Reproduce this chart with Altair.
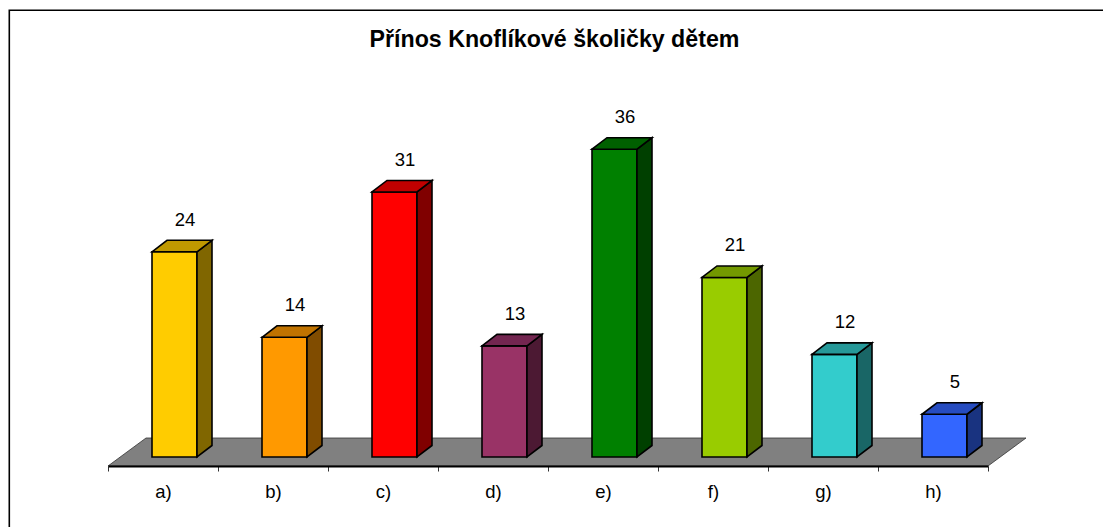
import altair as alt
import pandas as pd

categories = ["a)", "b)", "c)", "d)", "e)", "f)", "g)", "h)"]
values = [24, 14, 31, 13, 36, 21, 12, 5]
front = ["#FFCC00", "#FF9900", "#FF0000", "#993366", "#008000", "#99CC00", "#33CCCC", "#3366FF"]
top = ["#C09900", "#C07300", "#C00000", "#732650", "#006000", "#739900", "#269999", "#264CC0"]
side = ["#806600", "#804C00", "#800000", "#4C1933", "#004000", "#4C6600", "#196666", "#193380"]

W, H = 1095, 519
PX_CAT, X0 = 110.0, 100.0      # px per category, px of first tick
PX_VAL, Y0 = 8.55, 449.0       # px per value unit, px of value 0
BAR_L, BAR_W = 44 / PX_CAT, 45 / PX_CAT
DX, DY = 15 / PX_CAT, 11.5 / PX_VAL
FL_DX, FL_DY = 38 / PX_CAT, 28 / PX_VAL
FL_FRONT = -9 / PX_VAL
n = len(categories)

xs = alt.Scale(domain=[-X0 / PX_CAT, (W - X0) / PX_CAT], nice=False, zero=False)
ys = alt.Scale(domain=[(Y0 - H) / PX_VAL, Y0 / PX_VAL], nice=False, zero=False)
X = alt.X("x:Q", scale=xs, axis=None)
Y = alt.Y("y:Q", scale=ys, axis=None)

# floor
floor = pd.DataFrame([
    dict(x=0, y=FL_FRONT, y2=FL_FRONT),
    dict(x=FL_DX, y=FL_FRONT + FL_DY, y2=FL_FRONT),
    dict(x=n, y=FL_FRONT + FL_DY, y2=FL_FRONT),
    dict(x=n + FL_DX, y=FL_FRONT + FL_DY, y2=FL_FRONT + FL_DY),
])
floor_layer = alt.Chart(floor).mark_area(color="#808080", stroke="#333333", strokeWidth=0.8).encode(X, Y, y2="y2:Q")

rows_front, rows_side, rows_top, rows_lab = [], [], [], []
for i, (c, v) in enumerate(zip(categories, values)):
    l = i + BAR_L
    r = l + BAR_W
    rows_front.append(dict(c=c, x=l, x2=r, y=0, y2=v, col=front[i]))
    rows_side += [dict(c=c, x=r, y=v, y2=0, col=side[i]),
                  dict(c=c, x=r + DX, y=v + DY, y2=DY, col=side[i])]
    rows_top += [dict(c=c, x=l, y=v, y2=v, col=top[i]),
                 dict(c=c, x=l + DX, y=v + DY, y2=v, col=top[i]),
                 dict(c=c, x=r, y=v + DY, y2=v, col=top[i]),
                 dict(c=c, x=r + DX, y=v + DY, y2=v + DY, col=top[i])]
    rows_lab.append(dict(x=i + 0.5 + 22 / PX_CAT, y=v + 32 / PX_VAL, t=str(v)))

color = alt.Color("col:N", scale=None)
stroke = dict(stroke="#000000", strokeWidth=1.6, strokeJoin="miter")

front_layer = alt.Chart(pd.DataFrame(rows_front)).mark_rect(**stroke).encode(
    X, x2="x2:Q", y=Y, y2="y2:Q", color=color)
side_layer = alt.Chart(pd.DataFrame(rows_side)).mark_area(**stroke).encode(
    X, Y, y2="y2:Q", color=color, detail="c:N")
top_layer = alt.Chart(pd.DataFrame(rows_top)).mark_area(**stroke).encode(
    X, Y, y2="y2:Q", color=color, detail="c:N")
labels = alt.Chart(pd.DataFrame(rows_lab)).mark_text(
    font="Liberation Sans", fontSize=18.5, color="#000000", baseline="middle").encode(X, Y, text="t:N")

# frame: its right and bottom edges lie past the picture
frame = alt.Chart(pd.DataFrame([dict(x=(1.3 - X0) / PX_CAT, x2=(W + 30 - X0) / PX_CAT,
                                     y=(Y0 - 2.3) / PX_VAL, y2=(Y0 - H - 30) / PX_VAL)])).mark_rect(
    filled=False, stroke="#000000", strokeWidth=1.6, clip=False).encode(X, x2="x2:Q", y=Y, y2="y2:Q")

# category axis
cat_axis = alt.Chart(pd.DataFrame(dict(c=categories))).mark_point(opacity=0).encode(
    x=alt.X("c:N", sort=categories, title=None,
            scale=alt.Scale(domain=categories, range=[X0, X0 + n * PX_CAT], paddingInner=0, paddingOuter=0),
            axis=alt.Axis(orient="bottom", offset=Y0 + 9 - H, tickBand="extent", labelAngle=0, zindex=1,
                          labelFont="Liberation Sans", labelFontSize=18.5, labelColor="#000000",
                          labelPadding=11, tickSize=5, tickColor="#333333", tickWidth=1,
                          domainColor="#000000", domainWidth=2, grid=False)),
)

chart = alt.layer(frame, floor_layer, cat_axis, front_layer, side_layer, top_layer, labels).resolve_scale(
    x="independent"
).properties(
    width=W, height=H, padding=0,
    title=alt.TitleParams("Přínos Knoflíkové školičky dětem", font="Liberation Sans", fontSize=23.2,
                          fontWeight="bold", color="#000000", anchor="middle", offset=-44, dx=-1),
    autosize=alt.AutoSizeParams(type="none"),
).configure_view(stroke=None)

chart.save("out.html", embed_options={"renderer": "svg", "actions": False})
